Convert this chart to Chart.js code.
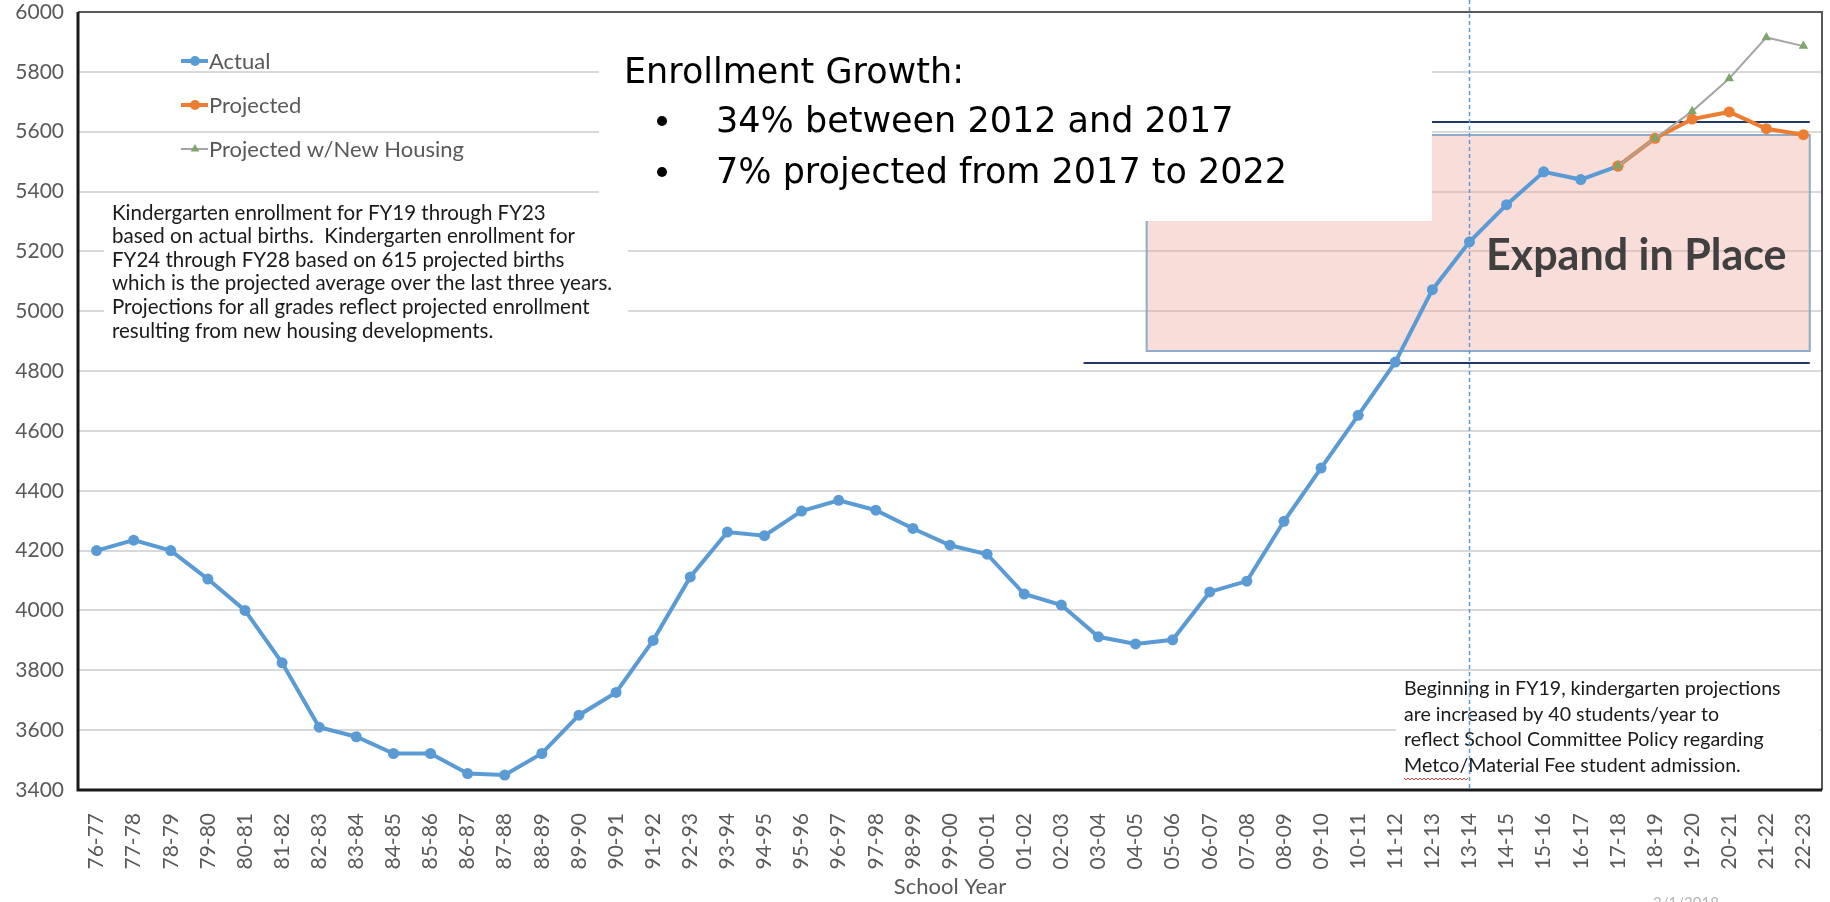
<!DOCTYPE html>
<html>
<head>
<meta charset="utf-8">
<title>Enrollment Growth</title>
<script src="https://cdn.jsdelivr.net/npm/chart.js@4.4.0/dist/chart.umd.min.js"></script>
<style>
  html, body { margin: 0; padding: 0; background: #fff; }
  #chart-wrapper { width: 1830px; height: 902px; }
</style>
</head>
<body>
<div id="chart-wrapper">
  <canvas id="enrollmentChart" width="1830" height="902"></canvas>
</div>
<script>
const schoolYears = [
  '76-77', '77-78', '78-79', '79-80', '80-81', '81-82', '82-83', '83-84', '84-85', '85-86',
  '86-87', '87-88', '88-89', '89-90', '90-91', '91-92', '92-93', '93-94', '94-95', '95-96',
  '96-97', '97-98', '98-99', '99-00', '00-01', '01-02', '02-03', '03-04', '04-05', '05-06',
  '06-07', '07-08', '08-09', '09-10', '10-11', '11-12', '12-13', '13-14', '14-15', '15-16',
  '16-17', '17-18', '18-19', '19-20', '20-21', '21-22', '22-23',
];

// 76-77 .. 17-18
const actual = [
  4200, 4235, 4200, 4105, 4000, 3825, 3610, 3578, 3522, 3522,
  3455, 3450, 3522, 3650, 3726, 3900, 4112, 4262, 4250, 4332,
  4368, 4335, 4274, 4218, 4188, 4055, 4018, 3912, 3888, 3902,
  4062, 4098, 4298, 4476, 4652, 4830, 5072, 5232, 5356, 5466,
  5440, 5485,
];

// 17-18 .. 22-23
const projectionStart = '17-18';
const projected = [5485, 5578, 5642, 5666, 5610, 5590];
const projectedHousing = [5485, 5578, 5668, 5778, 5915, 5886];

const yMin = 3400;
const yMax = 6000;
const yStep = 200;

// annotations, in data units (x = category index, y = students)
const expandInPlace = { fromIndex: 28.3, toIndex: 46.17, low: 4867, high: 5589 };
const capacityLines = [5632, 4827];
const capacityFromIndex = 26.6;
const policyYear = '13-14';

const legendNames = ['Actual', 'Projected', 'Projected w/New Housing'];
const noteLeft = [
  'Kindergarten enrollment for FY19 through FY23',
  'based on actual births.  Kindergarten enrollment for',
  'FY24 through FY28 based on 615 projected births',
  'which is the projected average over the last three years.',
  'Projections for all grades reflect projected enrollment',
  'resulting from new housing developments.',
];
const noteRight = [
  'Beginning in FY19, kindergarten projections',
  'are increased by 40 students/year to',
  'reflect School Committee Policy regarding',
  'Metco/Material Fee student admission.',
];
const growthTitle = 'Enrollment Growth:';
const growthBullets = ['34% between 2012 and 2017', '7% projected from 2017 to 2022'];

const alignTo = (values, startLabel) => {
  const start = schoolYears.indexOf(startLabel);
  return schoolYears.map((_, i) => (i >= start && i - start < values.length ? values[i - start] : null));
};

const BLUE = '#5b9bd5';
const ORANGE = '#ed7d31';
const GREEN = '#7ea66a';
const GREY_LINE = '#a5a5a5';

const datasets = [
  {
    label: legendNames[2],
    data: alignTo(projectedHousing, projectionStart),
    borderColor: GREY_LINE,
    backgroundColor: GREEN,
    borderWidth: 2,
    pointStyle: 'triangle',
    pointRadius: 5.5,
    pointBorderWidth: 0,
    pointBackgroundColor: GREEN,
    order: 0,
  },
  {
    label: legendNames[1],
    data: alignTo(projected, projectionStart),
    borderColor: ORANGE,
    backgroundColor: ORANGE,
    borderWidth: 4,
    pointRadius: 5.5,
    pointBorderWidth: 0,
    pointBackgroundColor: ORANGE,
    order: 1,
  },
  {
    label: legendNames[0],
    data: alignTo(actual, schoolYears[0]),
    borderColor: BLUE,
    backgroundColor: BLUE,
    borderWidth: 4,
    pointRadius: 5.5,
    pointBorderWidth: 0,
    pointBackgroundColor: BLUE,
    order: 2,
  },
];

const drawLines = (ctx, lines, x, y0, step, font, color) => {
  ctx.font = font;
  ctx.fillStyle = color;
  ctx.textAlign = 'left';
  ctx.textBaseline = 'middle';
  lines.forEach((t, i) => ctx.fillText(t, x, y0 + i * step));
};

const overlayPlugin = {
  id: 'overlays',
  beforeDatasetsDraw(chart) {
    const { ctx, scales: { x, y } } = chart;
    ctx.save();
    // Expand in Place region
    const l = x.getPixelForValue(expandInPlace.fromIndex);
    const r = x.getPixelForValue(expandInPlace.toIndex);
    const t = y.getPixelForValue(expandInPlace.high);
    const b = y.getPixelForValue(expandInPlace.low);
    ctx.fillStyle = 'rgba(236, 160, 150, 0.36)';
    ctx.fillRect(l, t, r - l, b - t);
    ctx.strokeStyle = '#8eabcc';
    ctx.lineWidth = 2;
    ctx.strokeRect(l, t, r - l, b - t);

    ctx.font = 'bold 43px Lato';
    ctx.fillStyle = '#404040';
    ctx.textAlign = 'left';
    ctx.textBaseline = 'alphabetic';
    ctx.fillText('Expand in Place', 1486, 270);

    // capacity lines
    ctx.strokeStyle = '#1f3864';
    ctx.lineWidth = 2;
    capacityLines.forEach((v) => {
      const py = y.getPixelForValue(v);
      ctx.beginPath();
      ctx.moveTo(x.getPixelForValue(capacityFromIndex), py);
      ctx.lineTo(r, py);
      ctx.stroke();
    });
    ctx.restore();
  },
  afterDatasetsDraw(chart) {
    const { ctx, chartArea, scales: { x } } = chart;
    ctx.save();

    // legend
    chart.data.datasets
      .slice()
      .sort((a, b) => b.order - a.order)
      .forEach((ds, i) => {
        const cy = 61 + i * 44;
        ctx.strokeStyle = ds.borderColor;
        ctx.lineWidth = ds.borderWidth;
        ctx.beginPath();
        ctx.moveTo(181, cy);
        ctx.lineTo(208, cy);
        ctx.stroke();
        ctx.fillStyle = ds.pointBackgroundColor;
        ctx.strokeStyle = ds.pointBackgroundColor;
        Chart.helpers.drawPoint(ctx, { pointStyle: ds.pointStyle || 'circle', radius: 5, borderWidth: 0 }, 195, cy);
        ctx.font = '22px Lato';
        ctx.fillStyle = '#595959';
        ctx.textAlign = 'left';
        ctx.textBaseline = 'middle';
        ctx.fillText(ds.label, 209, cy + 1);
      });

    // left note
    ctx.fillStyle = '#fff';
    ctx.fillRect(104, 198, 524, 146);
    drawLines(ctx, noteLeft, 112, 213, 23.6, '20.5px Lato', '#1a1a1a');

    // growth box
    ctx.fillStyle = '#fff';
    ctx.fillRect(599, 24, 833, 197);
    ctx.font = '35px "DejaVu Sans"';
    ctx.fillStyle = '#000';
    ctx.textBaseline = 'alphabetic';
    ctx.fillText(growthTitle, 624, 83);
    growthBullets.forEach((txt, i) => {
      const by = 132 + i * 51;
      ctx.beginPath();
      ctx.arc(662, by - 11, 5, 0, Math.PI * 2);
      ctx.fill();
      ctx.fillText(txt, 716, by);
    });

    // right note
    ctx.fillStyle = '#fff';
    ctx.fillRect(1396, 672, chartArea.right - 1398, chartArea.bottom - 674);
    drawLines(ctx, noteRight, 1404, 689, 25.4, '19.6px Lato', '#1a1a1a');
    ctx.font = '19.6px Lato';
    const w = ctx.measureText('Metco/').width;
    ctx.strokeStyle = '#e0443a';
    ctx.lineWidth = 1;
    ctx.beginPath();
    for (let px = 0; px <= w; px += 2) {
      const py = 778 + (px % 4 === 0 ? 0 : 2);
      if (px === 0) ctx.moveTo(1404 + px, py); else ctx.lineTo(1404 + px, py);
    }
    ctx.stroke();

    // policy marker line
    const vx = x.getPixelForValue(schoolYears.indexOf(policyYear));
    ctx.strokeStyle = BLUE;
    ctx.lineWidth = 1.5;
    ctx.setLineDash([4, 3]);
    ctx.beginPath();
    ctx.moveTo(vx, 0);
    ctx.lineTo(vx, chartArea.bottom);
    ctx.stroke();
    ctx.setLineDash([]);

    // frame
    ctx.strokeStyle = '#595959';
    ctx.lineWidth = 2;
    ctx.beginPath();
    ctx.moveTo(chartArea.left, chartArea.top);
    ctx.lineTo(chartArea.right, chartArea.top);
    ctx.lineTo(chartArea.right, chartArea.bottom);
    ctx.stroke();
    ctx.strokeStyle = '#1a1a1a';
    ctx.lineWidth = 3;
    ctx.beginPath();
    ctx.moveTo(chartArea.left, chartArea.top);
    ctx.lineTo(chartArea.left, chartArea.bottom);
    ctx.lineTo(chartArea.right, chartArea.bottom);
    ctx.stroke();

    // date stamp, cut off by the page edge
    ctx.font = '15px Lato';
    ctx.fillStyle = '#b5b5b5';
    ctx.textAlign = 'center';
    ctx.textBaseline = 'middle';
    ctx.fillText('2/1/2018', 1686, 903);
    ctx.restore();
  },
};

const ctx = document.getElementById('enrollmentChart').getContext('2d');
new Chart(ctx, {
  type: 'line',
  data: { labels: schoolYears, datasets },
  options: {
    responsive: false,
    animation: false,
    layout: { padding: { left: 0, right: 8, top: 12, bottom: 0 } },
    plugins: { legend: { display: false }, tooltip: { enabled: false } },
    elements: { line: { tension: 0 } },
    scales: {
      x: {
        type: 'category',
        offset: true,
        grid: { display: false },
        border: { display: false },
        ticks: {
          autoSkip: false,
          minRotation: 90,
          maxRotation: 90,
          padding: 15,
          color: '#595959',
          font: { family: 'Lato', size: 21 },
        },
        title: {
          display: true,
          text: 'School Year',
          color: '#595959',
          font: { family: 'Lato', size: 22 },
          padding: { top: 0, bottom: 2 },
        },
        afterFit: (scale) => {
          scale.height = 112;
          scale.paddingLeft = 0;
          scale.paddingRight = 0;
        },
      },
      y: {
        min: yMin,
        max: yMax,
        ticks: {
          stepSize: yStep,
          padding: 14,
          color: '#595959',
          font: { family: 'Lato', size: 21 },
          callback: (value) => String(value),
        },
        grid: { color: '#d9d9d9', lineWidth: 2, drawTicks: false },
        border: { display: false },
        afterFit: (scale) => {
          scale.width = 78;
          scale.paddingTop = 0;
          scale.paddingBottom = 0;
        },
      },
    },
  },
  plugins: [overlayPlugin],
});
</script>
</body>
</html>
